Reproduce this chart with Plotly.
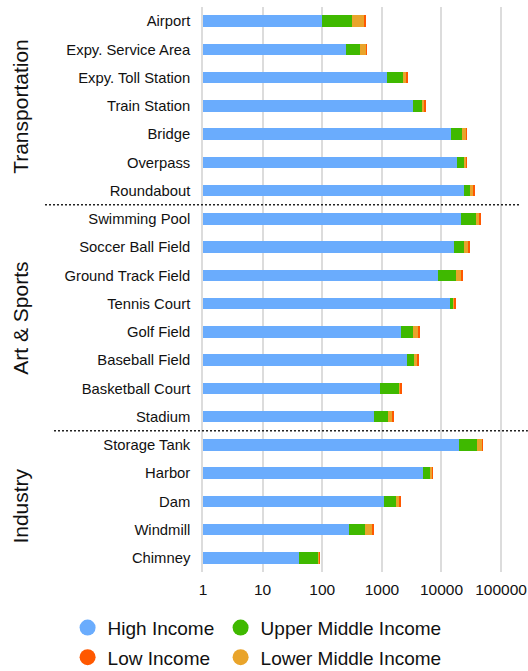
import plotly.graph_objects as go

# Facility categories, top to bottom
categories = [
    "Airport", "Expy. Service Area", "Expy. Toll Station", "Train Station",
    "Bridge", "Overpass", "Roundabout",
    "Swimming Pool", "Soccer Ball Field", "Ground Track Field", "Tennis Court",
    "Golf Field", "Baseball Field", "Basketball Court", "Stadium",
    "Storage Tank", "Harbor", "Dam", "Windmill", "Chimney",
]

# Counts per income group
high_income = [100, 248, 1240, 3340, 14300, 17900, 23400,
               21300, 16300, 8700, 13900, 2080, 2620, 930, 730,
               20000, 4900, 1090, 280, 40]
upper_middle_income = [216, 178, 1000, 1380, 7600, 5800, 6500,
                       16700, 7400, 8700, 2100, 1220, 900, 1010, 530,
                       19000, 1400, 620, 250, 45]
lower_middle_income = [194, 125, 375, 530, 4000, 2600, 4500,
                       6000, 4700, 4500, 800, 810, 480, 130, 225,
                       9500, 650, 285, 155, 5]
low_income = [21, 3, 70, 150, 700, 300, 1400,
              1700, 600, 800, 150, 160, 160, 55, 60,
              300, 190, 55, 40, 1]

# Group labels: (name, first index, last index)
groups = [("Transportation", 0, 6), ("Art & Sports", 7, 14), ("Industry", 15, 19)]

x_tickvals = [1, 10, 100, 1000, 10000, 100000]
x_ticktext = ["1", "10", "100", "1000", "10000", "100000"]

BLUE = "#6aacfd"
GREEN = "#3fb900"
ORANGE = "#e9a42b"
RED = "#ff5800"
FONT = "Liberation Sans, Arial, Helvetica, sans-serif"

# (name, values, colour, legend id, rank, legend entry width)
series = [
    ("High Income", high_income, BLUE, "legend", 1, 108),
    ("Upper Middle Income", upper_middle_income, GREEN, "legend", 2, 205),
    ("Lower Middle Income", lower_middle_income, ORANGE, "legend2", 4, 205),
    ("Low Income", low_income, RED, "legend2", 3, 108),
]

fig = go.Figure()

for name, vals, color, _, _, _ in series:
    fig.add_trace(go.Bar(
        y=categories, x=vals, orientation="h", name=name,
        marker=dict(color=color, line=dict(width=0)),
        width=0.4, showlegend=False, hoverinfo="x+y+name",
    ))

# Round legend markers
for name, vals, color, leg, rank, lw in series:
    fig.add_trace(go.Scatter(
        x=[None], y=[None], mode="markers", name=name,
        marker=dict(symbol="circle", size=16, color=color),
        legend=leg, legendrank=rank, legendwidth=lw, showlegend=True,
    ))

# Dashed separators between groups
separators = [(6.5, -0.5, 1.003), (14.5, -0.4715, 1.028)]
for yv, x0, x1 in separators:
    fig.add_shape(type="line", xref="paper", yref="y",
                  x0=x0, x1=x1, y0=yv, y1=yv,
                  line=dict(color="#222222", width=1.3, dash="2px,2px"))

for name, i0, i1 in groups:
    yc = (i0 + i1) / 2
    if name == "Industry":
        yc += 0.15
    fig.add_annotation(text=name, xref="paper", yref="y", x=-0.576, y=yc,
                       textangle=-90, showarrow=False, xanchor="center", yanchor="middle",
                       font=dict(size=21, color="#111111", family=FONT))

legend_common = dict(orientation="h", xref="paper", yref="paper",
                     xanchor="left", yanchor="middle", traceorder="normal",
                     font=dict(size=19, color="#111111"),
                     itemsizing="trace", bgcolor="rgba(0,0,0,0)")

fig.update_layout(
    width=528, height=671,
    margin=dict(l=203, r=9, t=7, b=99, autoexpand=False),
    barmode="stack",
    plot_bgcolor="white", paper_bgcolor="white",
    font=dict(family=FONT, color="#222222"),
    xaxis=dict(
        type="log", range=[0, 5.3],
        tickvals=x_tickvals, ticktext=x_ticktext,
        showgrid=True, gridcolor="#dcdcdc", gridwidth=1.5,
        zeroline=False, showline=False, ticks="",
        ticklabelstandoff=6,
        tickfont=dict(size=15.5, color="#111111"),
    ),
    yaxis=dict(
        type="category", categoryorder="array", categoryarray=categories,
        range=[19.5, -0.5], showgrid=False, zeroline=False,
        showline=True, linecolor="#dcdcdc", linewidth=1.5,
        ticks="", ticklabelstandoff=8,
        tickfont=dict(size=14.8, color="#111111"),
    ),
    legend=dict(x=-0.4285, y=-0.0986, **legend_common),
    legend2=dict(x=-0.4285, y=-0.151, **legend_common),
)

fig.write_html("out.html")
